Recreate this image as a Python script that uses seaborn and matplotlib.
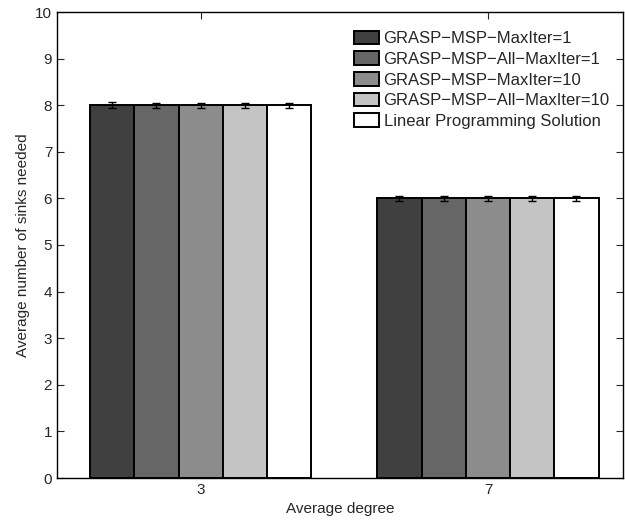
import matplotlib

matplotlib.use("Agg")

import matplotlib.pyplot as plt
import numpy as np
import pandas as pd
import seaborn as sns

degrees = ["3", "7"]
methods = [
    "GRASP\u2212MSP\u2212MaxIter=1",
    "GRASP\u2212MSP\u2212All\u2212MaxIter=1",
    "GRASP\u2212MSP\u2212MaxIter=10",
    "GRASP\u2212MSP\u2212All\u2212MaxIter=10",
    "Linear Programming Solution",
]
means = {
    "3": [8.0, 8.0, 8.0, 8.0, 8.0],
    "7": [6.0, 6.0, 6.0, 6.0, 6.0],
}
errors = {
    "3": [0.06, 0.05, 0.05, 0.05, 0.05],
    "7": [0.06, 0.05, 0.05, 0.05, 0.05],
}
colors = ["#404040", "#666666", "#8c8c8c", "#c4c4c4", "#ffffff"]

rows = []
for d in degrees:
    for m, v, e in zip(methods, means[d], errors[d]):
        rows.append({"degree": d, "method": m, "value": v, "err": e})
df = pd.DataFrame(rows)

sns.set_style("ticks")
plt.rcParams["font.family"] = ["Liberation Sans", "DejaVu Sans"]

fig = plt.figure(figsize=(6.25, 5.27), dpi=100)
ax = fig.add_axes([57 / 625, 1 - 478 / 527, 566 / 625, 466 / 527])

sns.barplot(
    data=df,
    x="degree",
    y="value",
    hue="method",
    order=degrees,
    hue_order=methods,
    palette=colors,
    width=0.77,
    errorbar=None,
    edgecolor="black",
    linewidth=1.4,
    saturation=1,
    ax=ax,
)

# error bars at bar centres
for cont, m in zip(ax.containers, methods):
    sub = df[df["method"] == m].set_index("degree").loc[degrees]
    xs = [p.get_x() + p.get_width() / 2 for p in cont.patches]
    ax.errorbar(xs, sub["value"], yerr=sub["err"], fmt="none",
                ecolor="black", elinewidth=1, capsize=3, capthick=1)

ax.set_xlim(-0.5, 1.47)
ax.set_ylim(0, 10)
ax.set_yticks(np.arange(0, 11, 1))
ax.set_xlabel("Average degree", fontsize=11)
ax.set_ylabel("Average number of sinks needed", fontsize=11)
ax.tick_params(axis="both", labelsize=11, direction="in", length=5)
ax.tick_params(top=True, right=True)
for s in ax.spines.values():
    s.set_linewidth(1)
    s.set_color("black")

leg = ax.legend(
    loc="upper right",
    bbox_to_anchor=(0.997, 0.985),
    frameon=False,
    fontsize=12,
    handlelength=1.5,
    handleheight=0.9,
    handletextpad=0.25,
    labelspacing=0.3,
    borderaxespad=0.3,
)

plt.savefig("out.png", dpi=100)
plt.close()
